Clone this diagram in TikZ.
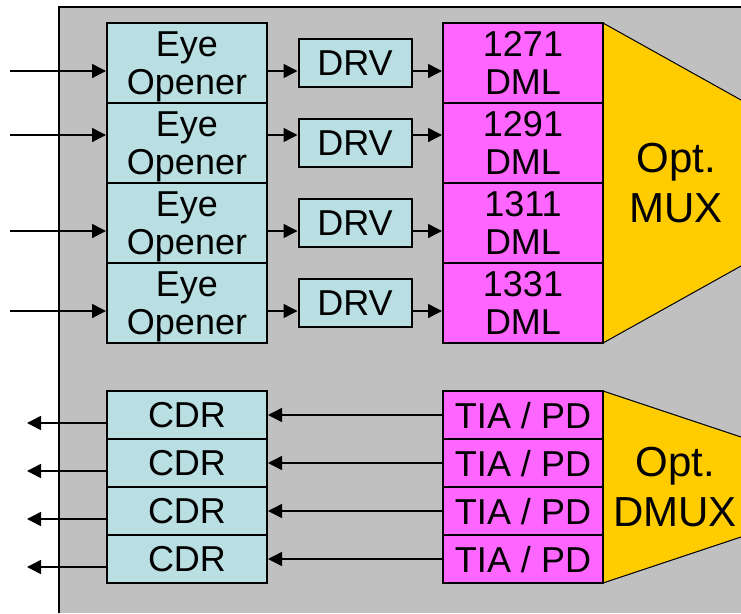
\documentclass[tikz,border=0pt]{standalone}
\usepackage{fontspec}
\setmainfont{Liberation Sans}
\usetikzlibrary{arrows.meta}
\definecolor{bggray}{RGB}{192,192,192}
\definecolor{lblue}{RGB}{185,223,227}
\definecolor{magbox}{RGB}{255,102,255}
\definecolor{muxyel}{RGB}{255,204,0}
\begin{document}
\begin{tikzpicture}[x=1pt,y=-1pt,
  box/.style={draw=black, line width=2pt, inner sep=0pt, align=center,
    text depth=0pt, font=\fontsize{36}{38}\selectfont},
  eyebox/.style={box, fill=lblue, minimum width=160pt, minimum height=80pt},
  drvbox/.style={box, fill=lblue, minimum width=113pt, minimum height=48pt},
  dmlbox/.style={box, fill=magbox, minimum width=160pt, minimum height=80pt},
  cdrbox/.style={box, fill=lblue, minimum width=160pt, minimum height=48pt},
  tiabox/.style={box, fill=magbox, minimum width=160pt, minimum height=48pt},
  muxtext/.style={inner sep=0pt, align=center, text depth=0pt,
    font=\fontsize{42}{50}\selectfont},
  arr/.style={line width=1.5pt, -{Triangle[length=14pt,width=14pt]}},
  trap/.style={fill=muxyel},
  trapedge/.style={draw=black, line width=1pt}
]
\useasboundingbox (0,0) rectangle (741,613);
% background panel
\fill[bggray] (59,7) rectangle (741,613);
\draw[line width=2pt] (59,613) -- (59,7) -- (741,7);

% optical MUX / DMUX
\fill[trap] (603,23) -- (741,100) -- (741,266) -- (603,343) -- cycle;
\draw[trapedge] (603,23) -- (741,100);
\draw[trapedge] (603,343) -- (741,266);
\node[muxtext] (mux) at (676,183) {Opt.\\MUX};

\fill[trap] (603,391) -- (741,437) -- (741,537) -- (603,583) -- cycle;
\draw[trapedge] (603,391) -- (741,437);
\draw[trapedge] (603,583) -- (741,537);
\node[muxtext] (dmux) at (675,487) {Opt.\\DMUX};

% transmit side
\node[eyebox] (eye1) at (187,63) {Eye\\Opener};
\node[eyebox] (eye2) at (187,143) {Eye\\Opener};
\node[eyebox] (eye3) at (187,223) {Eye\\Opener};
\node[eyebox] (eye4) at (187,303) {Eye\\Opener};

\node[drvbox] (drv1) at (355,63) {DRV};
\node[drvbox] (drv2) at (355,143) {DRV};
\node[drvbox] (drv3) at (355,223) {DRV};
\node[drvbox] (drv4) at (355,303) {DRV};

\node[dmlbox] (dml1) at (523,63) {1271\\DML};
\node[dmlbox] (dml2) at (523,143) {1291\\DML};
\node[dmlbox] (dml3) at (523,223) {1311\\DML};
\node[dmlbox] (dml4) at (523,303) {1331\\DML};

\coordinate (in1) at (10,71);
\coordinate (in2) at (10,135);
\coordinate (in3) at (10,231);
\coordinate (in4) at (10,311);

\foreach \i in {1,2,3,4}{
  \draw[arr] (in\i) -- (eye\i.west |- in\i);
  \draw[arr] (eye\i.east |- in\i) -- (drv\i.west |- in\i);
  \draw[arr] (drv\i.east |- in\i) -- (dml\i.west |- in\i);
}

% receive side
\node[cdrbox] (cdr1) at (187,415) {CDR};
\node[cdrbox] (cdr2) at (187,463) {CDR};
\node[cdrbox] (cdr3) at (187,511) {CDR};
\node[cdrbox] (cdr4) at (187,559) {CDR};

\node[tiabox] (tia1) at (523,415) {TIA / PD};
\node[tiabox] (tia2) at (523,463) {TIA / PD};
\node[tiabox] (tia3) at (523,511) {TIA / PD};
\node[tiabox] (tia4) at (523,559) {TIA / PD};

\coordinate (out1) at (27,423);
\coordinate (out2) at (27,471);
\coordinate (out3) at (27,519);
\coordinate (out4) at (27,567);

\foreach \i in {1,2,3,4}{
  \draw[arr] (tia\i.west) -- (cdr\i.east);
  \draw[arr] (cdr\i.west |- out\i) -- (out\i);
}
\end{tikzpicture}
\end{document}
